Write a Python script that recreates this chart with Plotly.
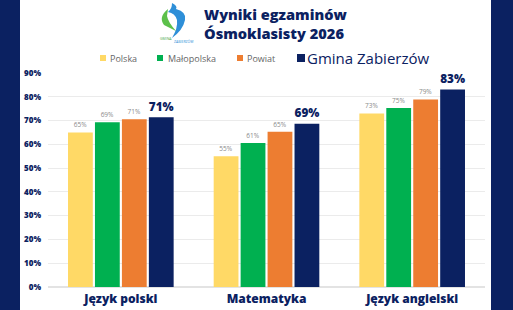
import base64
import plotly.graph_objects as go

categories = ["Język polski", "Matematyka", "Język angielski"]
series_names = ["Polska", "Małopolska", "Powiat", "Gmina Zabierzów"]
polska = [65, 55, 73]
malopolska = [69.3, 60.6, 75.3]
powiat = [70.6, 65.3, 78.9]
gmina = [71.4, 68.7, 83.1]
labels_polska = ["65%", "55%", "73%"]
labels_malopolska = ["69%", "61%", "75%"]
labels_powiat = ["71%", "65%", "79%"]
labels_gmina = ["71%", "69%", "83%"]
y_ticks = [0, 10, 20, 30, 40, 50, 60, 70, 80, 90]

NAVY = "#0B2161"
colors = ["#FFD966", "#00B050", "#ED7D31", NAVY]
FONT = "Open Sans"

W, H = 513, 310
L, R, T, B = 48, 28, 73, 23
PW, PH = W - L - R, H - T - B

def px(x):
    return (x - L) / PW

def py(y):
    return (H - B - y) / PH

fig = go.Figure()
vals = [polska, malopolska, powiat, gmina]
labs = [labels_polska, labels_malopolska, labels_powiat, labels_gmina]
for i in range(4):
    big = i == 3
    fig.add_trace(go.Bar(
        x=categories, y=vals[i], name=series_names[i],
        marker=dict(color=colors[i], line=dict(width=0)),
        text=labs[i], textposition="outside", cliponaxis=False,
        textfont=dict(family=FONT, size=16 if big else 6.5,
                      color=NAVY if big else "#8a8a8a",
                      weight=800 if big else 400),
    ))

fig.update_layout(
    width=W, height=H,
    margin=dict(l=L, r=R, t=T, b=B, autoexpand=False),
    paper_bgcolor=NAVY, plot_bgcolor="white",
    barmode="group", bargap=0.26, bargroupgap=0.08,
    font=dict(family=FONT, color=NAVY),
    showlegend=False,
)
fig.update_xaxes(showgrid=False, showline=False, ticks="", automargin=False,
                 ticklabelstandoff=3,
                 tickfont=dict(size=12, color=NAVY, family=FONT, weight=800))
fig.update_yaxes(range=[0, 90], tickvals=y_ticks, ticktext=[f"{v}%" for v in y_ticks],
                 showgrid=True, gridcolor="#ebebeb", gridwidth=1, zeroline=True,
                 zerolinecolor="#e3e3e3", showline=False, ticks="", automargin=False,
                 ticklabelstandoff=6,
                 tickfont=dict(size=8, color=NAVY, family=FONT, weight=800))

# white central panel (stretched solid-colour image under the plot)
svg = ("<svg xmlns='http://www.w3.org/2000/svg' width='10' height='10'>"
       "<rect width='10' height='10' fill='#ffffff'/></svg>")
uri = "data:image/svg+xml;base64," + base64.b64encode(svg.encode()).decode()
fig.add_layout_image(source=uri, xref="paper", yref="paper",
                     x=px(20), y=py(-5), sizex=px(491) - px(20), sizey=py(-5) - py(315),
                     xanchor="left", yanchor="top", sizing="stretch", layer="below")

# manual legend (positions for each series entry)
legend_sq_x = [100, 157, 237, 297]
legend_sq_size = [6, 6, 6, 8]
legend_text_x = [108, 166, 245, 305]
legend_font = [9, 9, 9, 15]
legend_color = ["#666666", "#666666", "#666666", NAVY]
LY = 58
for i in range(4):
    s = legend_sq_size[i]
    fig.add_shape(type="rect", xref="paper", yref="paper",
                  x0=px(legend_sq_x[i]), x1=px(legend_sq_x[i] + s),
                  y0=py(LY + s / 2), y1=py(LY - s / 2),
                  fillcolor=colors[i], line=dict(width=0))
    fig.add_annotation(xref="paper", yref="paper", x=px(legend_text_x[i]), y=py(LY),
                       xanchor="left", yanchor="middle", showarrow=False,
                       text=series_names[i],
                       font=dict(size=legend_font[i], color=legend_color[i], family=FONT))

# logo (approximate)
fig.add_shape(type="path", xref="paper", yref="paper",
              path=f"M {px(172)},{py(3)} Q {px(178)},{py(6)} {px(176)},{py(9)} "
                   f"Q {px(187)},{py(12)} {px(185)},{py(20)} Q {px(183)},{py(30)} {px(172)},{py(38)} "
                   f"Q {px(178)},{py(28)} {px(177)},{py(20)} Q {px(175)},{py(13)} {px(168)},{py(12)} "
                   f"Q {px(172)},{py(9)} {px(172)},{py(3)} Z",
              fillcolor="#2E8FD8", line=dict(width=0))
fig.add_shape(type="path", xref="paper", yref="paper",
              path=f"M {px(168)},{py(9)} Q {px(158)},{py(17)} {px(164)},{py(25)} "
                   f"L {px(176)},{py(31)} Q {px(168)},{py(22)} {px(167)},{py(16)} Z",
              fillcolor="#5CC04A", line=dict(width=0))
fig.add_annotation(xref="paper", yref="paper", x=px(158), y=py(34), text="GMINA",
                   showarrow=False, font=dict(size=3.5, color="#4aa84a", family=FONT))
fig.add_annotation(xref="paper", yref="paper", x=px(172), y=py(37), text="ZABIERZÓW",
                   showarrow=False, font=dict(size=3.5, color="#2E8FD8", family=FONT))

fig.add_annotation(xref="paper", yref="paper", x=px(202), y=py(23), xanchor="left",
                   yanchor="middle", align="left", showarrow=False,
                   text="Wyniki egzaminów<br>Ósmoklasisty 2026",
                   font=dict(size=14.6, color=NAVY, family=FONT, weight=800))

fig.write_html("out.html")
